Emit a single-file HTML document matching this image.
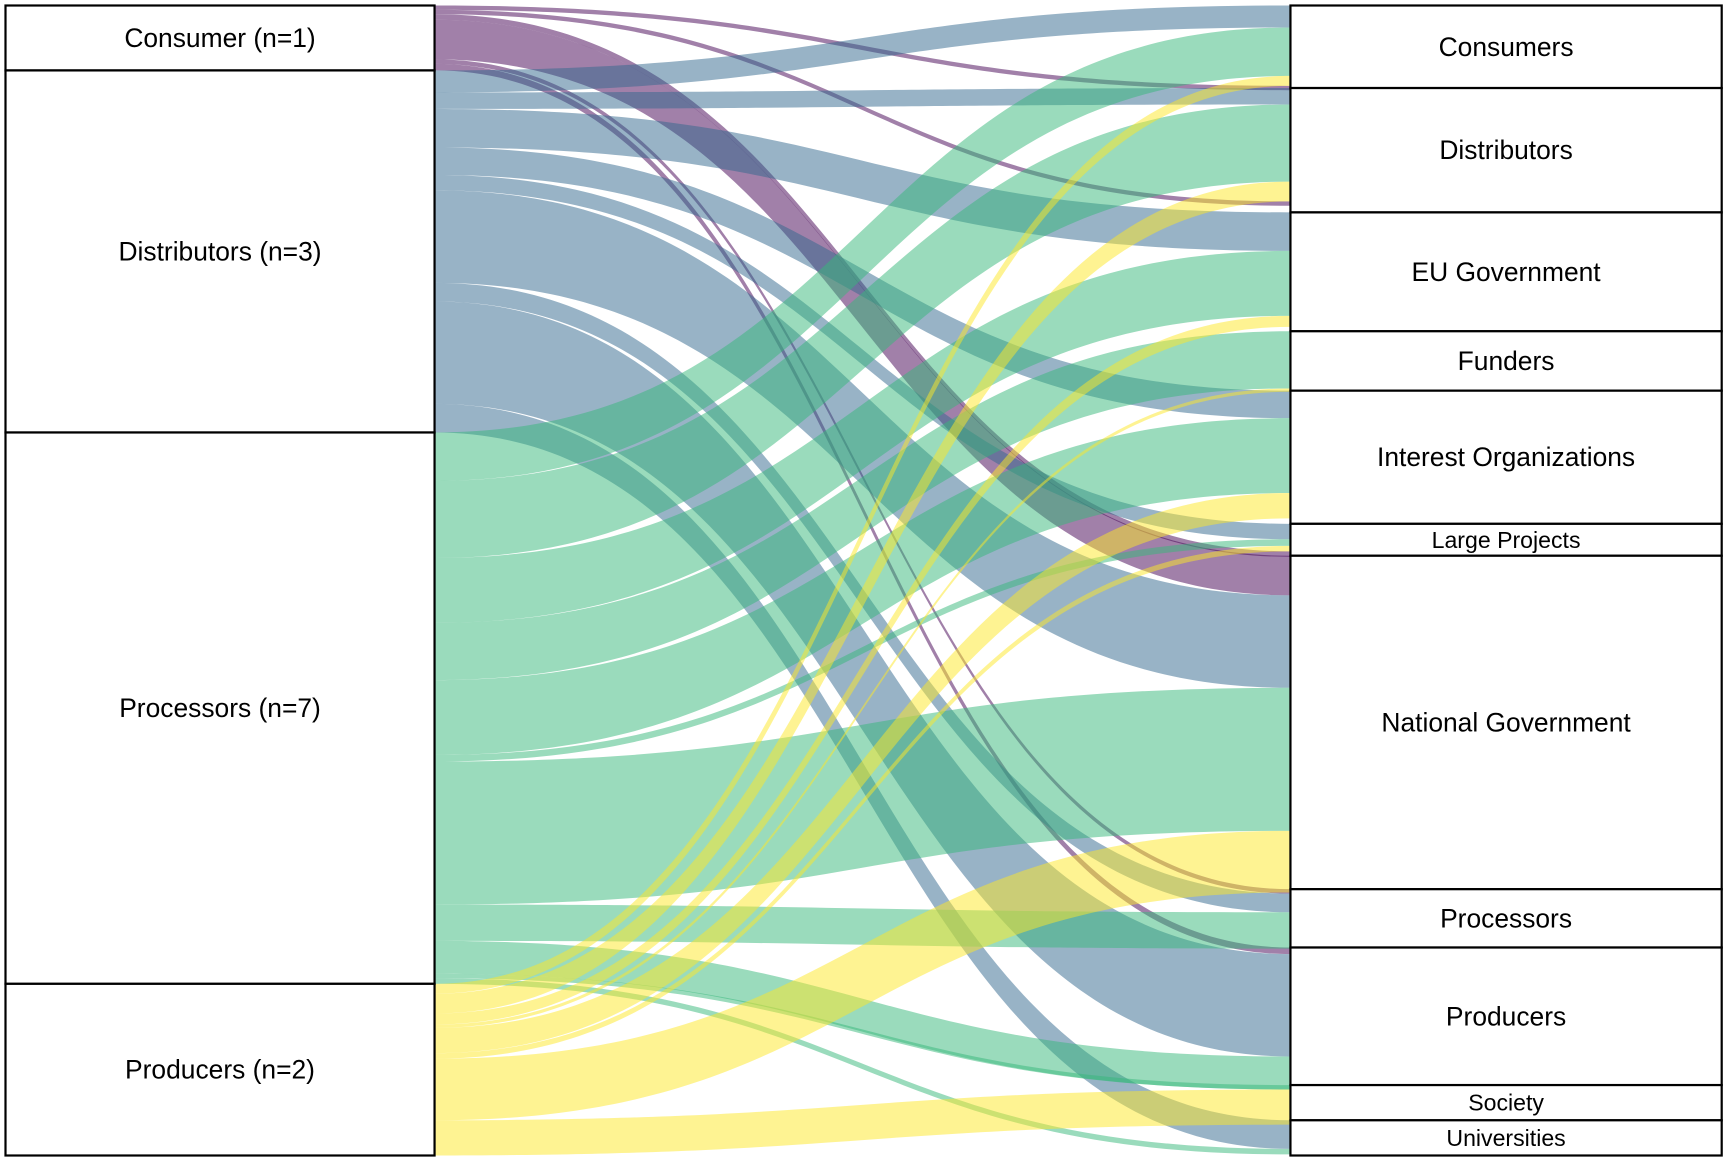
<!DOCTYPE html>
<html>
<head>
<meta charset="utf-8">
<style>
  html, body { margin: 0; padding: 0; background: #ffffff; }
  svg { display: block; }
  text { font-family: "Liberation Sans", Arial, sans-serif; fill: #000; }
</style>
</head>
<body>
<svg id="chart" width="1725" height="1161" viewBox="0 0 1568 1055" preserveAspectRatio="none" xmlns="http://www.w3.org/2000/svg">
  <g id="flows"></g>
  <g id="nodes"></g>
</svg>
<script>
// Left strata (stakeholder groups) and their sizes
const sources = ["Consumer (n=1)", "Distributors (n=3)", "Processors (n=7)", "Producers (n=2)"];
const sourceValues = [59, 329, 501, 156];
// Right strata (targets) and their sizes
const targets = ["Consumers", "Distributors", "EU Government", "Funders", "Interest Organizations", "Large Projects", "National Government", "Processors", "Producers", "Society", "Universities"];
const targetValues = [75, 113, 108, 54, 121, 29, 303, 53, 125, 32, 32];
// Flow values: one row per source, one column per target
const flowConsumer     = [4, 4, 0, 0, 0, 5, 36, 4, 6, 0, 0];
const flowDistributors = [20, 15, 35, 0, 25, 14, 84, 17, 93, 0, 26];
const flowProcessors   = [44, 70, 59, 52, 68, 6, 130, 33, 30, 4, 5];
const flowProducers    = [9, 18, 10, 3, 23, 5, 56, 0, 0, 32, 0];
const flowMatrix = [flowConsumer, flowDistributors, flowProcessors, flowProducers];
const colors = ["#440154", "#31688E", "#35B779", "#FDE725"];

const NS = "http://www.w3.org/2000/svg";
const top0 = 5, leftX0 = 5, leftX1 = 395, rightX0 = 1173, rightX1 = 1565;
const totalL = sourceValues.reduce((a, b) => a + b, 0);
const totalR = targetValues.reduce((a, b) => a + b, 0);
const plotH = 1045;
const sy = v => v * plotH / totalL;
const ty = v => v * plotH / totalR;

const srcTop = []; let acc = top0;
sourceValues.forEach(v => { srcTop.push(acc); acc += sy(v); });
const tgtTop = []; acc = top0;
targetValues.forEach(v => { tgtTop.push(acc); acc += ty(v); });

const leftPos = flowMatrix.map(() => []);
flowMatrix.forEach((row, s) => {
  let y = srcTop[s];
  row.forEach((v, t) => { leftPos[s][t] = y; y += sy(v); });
});
const rightPos = flowMatrix.map(() => []);
targets.forEach((name, t) => {
  const order = t <= 5 ? [1, 2, 3, 0] : [0, 1, 2, 3];
  let y = tgtTop[t];
  order.forEach(s => { rightPos[s][t] = y; y += sy(flowMatrix[s][t]); });
});

const flowsG = document.getElementById("flows");
const xm = (leftX1 + rightX0) / 2;
flowMatrix.forEach((row, s) => {
  row.forEach((v, t) => {
    if (v <= 0) return;
    const h = sy(v);
    const a = leftPos[s][t], b = rightPos[s][t];
    const d = `M${leftX1},${a} C${xm},${a} ${xm},${b} ${rightX0},${b} L${rightX0},${b + h} C${xm},${b + h} ${xm},${a + h} ${leftX1},${a + h} Z`;
    const p = document.createElementNS(NS, "path");
    p.setAttribute("d", d);
    p.setAttribute("fill", colors[s]);
    p.setAttribute("fill-opacity", "0.5");
    
    
    flowsG.appendChild(p);
  });
});

const nodesG = document.getElementById("nodes");
function addNode(x0, x1, y, h, label, size, kind, i) {
  const r = document.createElementNS(NS, "rect");
  r.setAttribute("x", x0); r.setAttribute("y", y);
  r.setAttribute("width", x1 - x0); r.setAttribute("height", h);
  r.setAttribute("fill", "#ffffff"); r.setAttribute("stroke", "#000"); r.setAttribute("stroke-width", "2");
  
  
  nodesG.appendChild(r);
  const tx = document.createElementNS(NS, "text");
  tx.setAttribute("x", (x0 + x1) / 2); tx.setAttribute("y", y + h / 2);
  tx.setAttribute("text-anchor", "middle"); tx.setAttribute("dominant-baseline", "central");
  tx.setAttribute("font-size", size);
  tx.textContent = label;
  
  
  nodesG.appendChild(tx);
}
sources.forEach((s, i) => addNode(leftX0, leftX1, srcTop[i], sy(sourceValues[i]), s, 24, 'source', i));
targets.forEach((s, i) => addNode(rightX0, rightX1, tgtTop[i], ty(targetValues[i]), s, ty(targetValues[i]) < 35 ? 21 : 24, 'target', i));
</script>
</body>
</html>
